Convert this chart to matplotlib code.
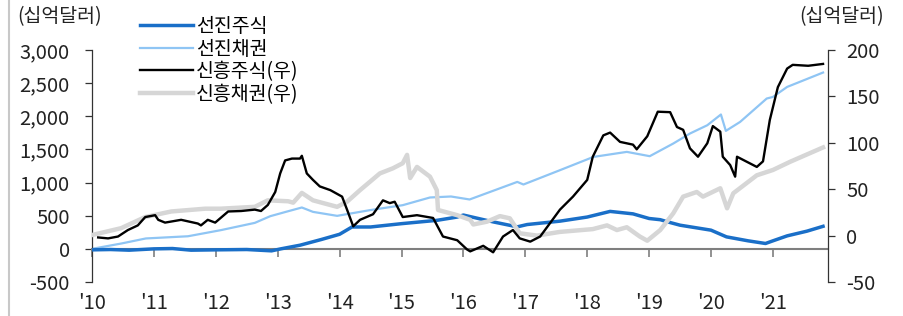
import matplotlib
matplotlib.use("Agg")
import matplotlib.pyplot as plt
from matplotlib.lines import Line2D

plt.rcParams['font.family'] = ['Noto Sans CJK KR', 'DejaVu Sans']

# ---- data ----
dm_eq_x = [2010.00, 2010.30, 2010.60, 2011.00, 2011.30, 2011.60, 2012.00, 2012.50, 2012.90, 2013.05,
           2013.36, 2013.70, 2014.00, 2014.20, 2014.50, 2015.00, 2015.57, 2015.90, 2016.00, 2016.48,
           2016.87, 2017.03, 2017.56, 2018.00, 2018.37, 2018.74, 2019.00, 2019.18, 2019.30, 2019.50,
           2020.00, 2020.25, 2020.60, 2020.88, 2021.00, 2021.23, 2021.55, 2021.81]
dm_eq_y = [-15, -10, -20, 0, 5, -20, -15, -10, -30, 0,
           55, 140, 220, 330, 330, 380, 430, 480, 510, 407,
           332, 367, 418, 480, 565, 528, 458, 440, 407, 357,
           282, 181, 121, 81, 121, 196, 267, 340]

dm_bd_x = [2010.00, 2010.47, 2010.87, 2011.55, 2012.08, 2012.63, 2012.88, 2013.17, 2013.39, 2013.57,
           2013.96, 2014.49, 2015.02, 2015.46, 2015.80, 2016.10, 2016.87, 2016.97, 2017.56, 2018.10,
           2018.64, 2019.01, 2019.39, 2019.66, 2019.94, 2020.16, 2020.24, 2020.47, 2020.90, 2021.00,
           2021.23, 2021.81]
dm_bd_y = [0, 80, 157, 190, 282, 392, 493, 568, 624, 558,
           498, 584, 659, 775, 790, 745, 1010, 971, 1187, 1387,
           1463, 1398, 1589, 1740, 1865, 2027, 1780, 1915, 2268, 2292,
           2443, 2660]

em_eq_x = [2010.10, 2010.26, 2010.42, 2010.58, 2010.74, 2010.86, 2011.02, 2011.07, 2011.18, 2011.44,
           2011.71, 2011.76, 2011.87, 2011.99, 2012.20, 2012.41, 2012.63, 2012.73, 2012.84, 2012.96,
           2013.04, 2013.12, 2013.23, 2013.36, 2013.39, 2013.47, 2013.57, 2013.68, 2013.85, 2014.04,
           2014.12, 2014.22, 2014.33, 2014.54, 2014.70, 2014.81, 2014.89, 2015.02, 2015.25, 2015.51,
           2015.67, 2015.90, 2016.06, 2016.11, 2016.32, 2016.48, 2016.64, 2016.80, 2016.91, 2017.08,
           2017.24, 2017.56, 2017.77, 2018.00, 2018.09, 2018.26, 2018.37, 2018.53, 2018.74, 2018.80,
           2018.97, 2019.14, 2019.34, 2019.45, 2019.55, 2019.66, 2019.79, 2019.94, 2020.03, 2020.15,
           2020.19, 2020.31, 2020.39, 2020.42, 2020.74, 2020.84, 2020.95, 2021.08, 2021.23, 2021.32,
           2021.57, 2021.81]
em_eq_y = [-2, -3, -1, 6, 11, 20, 22, 17, 14, 17,
           13, 11, 17, 14, 26, 26.5, 28, 26.5, 33, 47,
           67, 81, 83, 83, 86, 67, 60, 53, 49, 42,
           28, 10, 17, 23, 38, 35, 36.5, 20, 22, 19,
           -1, -5, -15, -17, -11, -18, -1, 6, -3, -6.5,
           -1, 28, 42, 60, 85, 108, 111, 101, 98, 93,
           107, 133.5, 133, 117, 114, 94, 85, 99.5, 118, 112,
           85, 76, 63.5, 85, 74, 80, 124.6, 160, 180, 184,
           183, 185]

em_bd_x = [2010.00, 2010.47, 2010.86, 2011.28, 2011.83, 2012.08, 2012.63, 2012.84, 2013.17, 2013.25,
           2013.39, 2013.57, 2013.96, 2014.12, 2014.33, 2014.65, 2014.86, 2015.02, 2015.09, 2015.14,
           2015.25, 2015.46, 2015.57, 2015.59, 2015.90, 2016.11, 2016.16, 2016.38, 2016.59, 2016.75,
           2016.91, 2017.19, 2017.56, 2018.09, 2018.32, 2018.48, 2018.64, 2018.85, 2018.97, 2019.18,
           2019.39, 2019.55, 2019.77, 2019.87, 2020.15, 2020.26, 2020.36, 2020.74, 2021.00, 2021.28,
           2021.81]
em_bd_y = [0.6, 8, 20, 26, 29, 29, 31, 38, 37, 35.5,
           46, 38, 31, 36.5, 49, 67, 72.5, 78, 87, 62,
           74, 63.5, 49, 27.6, 22, 17, 12, 15, 21, 18.6,
           2.5, 0, 4, 7, 11, 6, 9, -1, -5.5, 6,
           24, 42, 47, 42, 51, 29.4, 45.6, 65, 70.7, 79.6,
           95]

year_ticks = list(range(2010, 2022))
year_labels = ["'10", "'11", "'12", "'13", "'14", "'15", "'16", "'17", "'18", "'19", "'20", "'21"]
left_ticks = [-500, 0, 500, 1000, 1500, 2000, 2500, 3000]
right_ticks = [-50, 0, 50, 100, 150, 200]
names = ['선진주식', '선진채권', '신흥주식(우)', '신흥채권(우)']
unit = '(십억달러)'

# ---- figure ----
fig = plt.figure(figsize=(9.04, 3.16), dpi=100)
ax = fig.add_axes([92/904, 1-282/316, (828-92)/904, (282-50)/316])
ax2 = ax.twinx()

l1, = ax.plot(dm_eq_x, dm_eq_y, color='#1a6fc8', lw=2.5, zorder=3)
l2, = ax.plot(dm_bd_x, dm_bd_y, color='#8fc5f4', lw=1.6, zorder=2)
l4, = ax2.plot(em_bd_x, em_bd_y, color='#d6d6d6', lw=3.2, zorder=1)
l3, = ax2.plot(em_eq_x, em_eq_y, color='#000000', lw=1.7, zorder=2)

ax.set_xlim(2010, 2021.89)
ax.set_ylim(-500, 3000)
ax2.set_ylim(-50, 200)

ax.set_xticks(year_ticks)
ax.set_xticklabels(year_labels)
ax.set_yticks(left_ticks)
ax.set_yticklabels([f'{v:,}' for v in left_ticks])
ax2.set_yticks(right_ticks)
ax2.set_yticklabels([str(v) for v in right_ticks])

for s in ['top', 'right']:
    ax.spines[s].set_visible(False)
for s in ['top', 'left', 'bottom']:
    ax2.spines[s].set_visible(False)
ax.spines['bottom'].set_position(('data', 0))
ax.spines['bottom'].set_color('#7f7f7f')
ax.spines['bottom'].set_linewidth(1.5)
ax.spines['left'].set_color('#333333')
ax.spines['left'].set_linewidth(0.9)
ax2.spines['right'].set_color('#333333')
ax2.spines['right'].set_linewidth(0.9)

fs = 14.5
fs_txt = 14
ax.tick_params(axis='x', direction='out', length=6, width=1.2, color='#7f7f7f',
               pad=26, labelsize=fs, labelcolor='#222222')
ax.tick_params(axis='y', direction='out', length=5, width=0.9, color='#333333',
               pad=11, labelsize=fs, labelcolor='#222222')
ax2.tick_params(axis='y', direction='out', length=5, width=0.9, color='#333333',
                pad=8, labelsize=fs, labelcolor='#222222')

fig.text(17/904, 1-17/316, unit, fontsize=fs_txt, ha='left', va='center', color='#222222')
fig.text(884/904, 1-17/316, unit, fontsize=fs_txt, ha='right', va='center', color='#222222')

fig.legend([l1, l2, l3, l4], names, loc='upper left', bbox_to_anchor=(140/904, 1-16/316),
           frameon=False, fontsize=fs_txt, handlelength=2.75, handletextpad=0.12,
           labelspacing=0.08, borderpad=0, borderaxespad=0)

fig.add_artist(Line2D([9/904, 9/904], [0, 1], color='#c8c8c8', lw=1.5))

fig.savefig('out.png', dpi=100)
